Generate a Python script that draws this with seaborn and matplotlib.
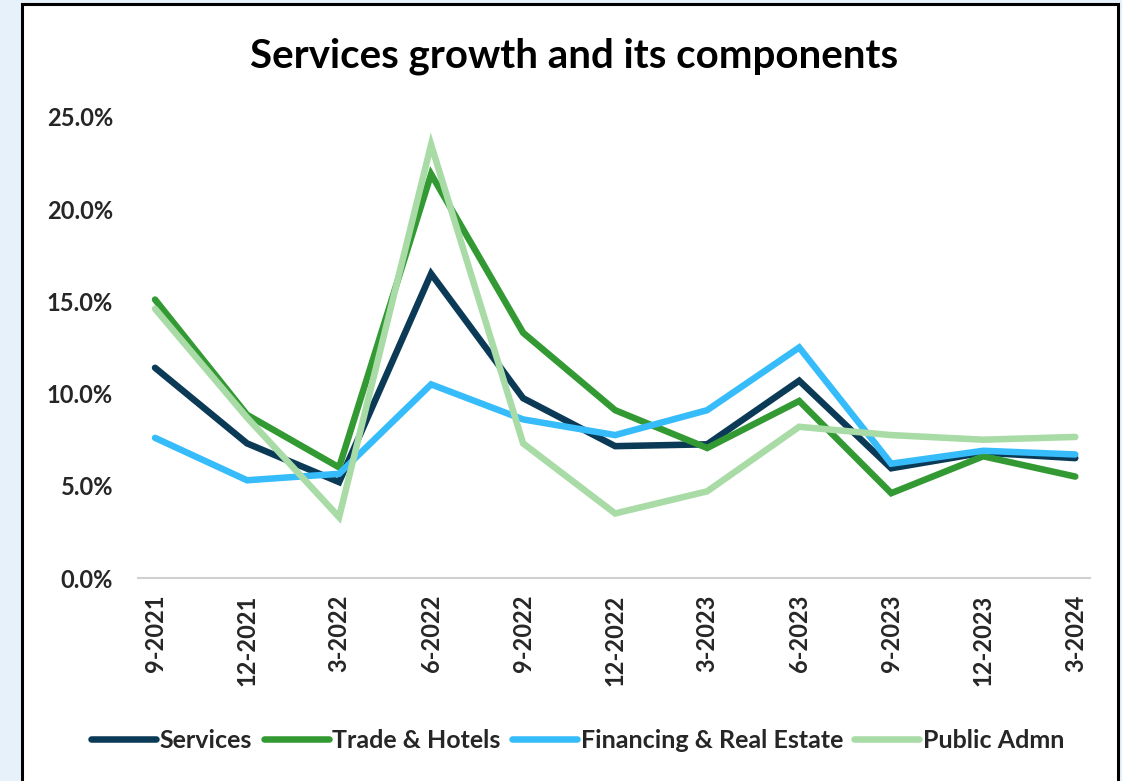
import matplotlib
matplotlib.use("Agg")
import matplotlib.pyplot as plt
import numpy as np
import pandas as pd
import seaborn as sns
from matplotlib.patches import Rectangle
from matplotlib.ticker import FuncFormatter

# Quarterly growth rates (%)
quarters = ["9-2021", "12-2021", "3-2022", "6-2022", "9-2022", "12-2022",
            "3-2023", "6-2023", "9-2023", "12-2023", "3-2024"]
services = [11.4, 7.3, 5.2, 16.5, 9.75, 7.15, 7.25, 10.7, 5.95, 6.8, 6.5]
trade_hotels = [15.1, 8.85, 6.0, 21.9, 13.3, 9.1, 7.05, 9.6, 4.6, 6.6, 5.5]
financing_re = [7.6, 5.3, 5.65, 10.5, 8.6, 7.75, 9.1, 12.5, 6.2, 6.9, 6.7]
public_admn = [14.6, 8.7, 3.3, 23.5, 7.3, 3.5, 4.7, 8.2, 7.75, 7.5, 7.65]

series_names = ["Services", "Trade & Hotels", "Financing & Real Estate", "Public Admn"]
series_colors = ["#0b3a56", "#339a33", "#36bcfb", "#a8dba6"]

frames = []
for name, vals in zip(series_names,
                      [services, trade_hotels, financing_re, public_admn]):
    frames.append(pd.DataFrame({"pos": np.arange(len(quarters)),
                                "growth": vals, "series": name}))
df = pd.concat(frames, ignore_index=True)

sns.set_style("white")
plt.rcParams["font.family"] = ["Lato", "DejaVu Sans"]
plt.rcParams["font.weight"] = "bold"

fig = plt.figure(figsize=(11.22, 7.81), dpi=100)
fig.patch.set_facecolor("#e7f1f9")

# White chart panel with black frame, kept behind the axes
panel = Rectangle((22 / 1122, -0.02), (1118 - 22) / 1122, 1.02 - 4 / 781,
                  transform=fig.transFigure, facecolor="white",
                  edgecolor="black", linewidth=2.2, zorder=-5)
fig.patches.append(panel)

ax = fig.add_axes([138 / 1122, 1 - 578 / 781, (1090 - 138) / 1122,
                   (578 - 117) / 781])
ax.set_facecolor("none")
ax.set_zorder(2)

sns.lineplot(data=df, x="pos", y="growth", hue="series",
             hue_order=series_names, palette=series_colors,
             linewidth=4.7, ax=ax, legend=False, sort=False)
for ln in ax.get_lines():
    ln.set_solid_capstyle("round")
    ln.set_solid_joinstyle("miter")

offset = 0.185
ax.set_xlim(-offset, 10.16)
ax.set_ylim(0, 25)

# Category boundary ticks (unlabelled) and labelled category positions
ax.set_xticks(np.arange(len(quarters)) - offset)
ax.set_xticklabels([])
ax.tick_params(axis="x", which="major", length=7, width=1.5, color="#d0d0d0",
               direction="out")
ax.set_xticks(np.arange(len(quarters)), minor=True)
ax.set_xticklabels(quarters, minor=True, rotation=90, fontsize=17,
                   fontweight="bold")
ax.tick_params(axis="x", which="minor", length=0, pad=12)

ax.set_yticks(np.arange(0, 26, 5))
ax.yaxis.set_major_formatter(FuncFormatter(lambda v, _: f"{v:.1f}%"))
ax.tick_params(axis="y", length=0, pad=18, labelsize=17)
for lbl in ax.get_yticklabels():
    lbl.set_fontweight("bold")

for side in ["top", "right", "left"]:
    ax.spines[side].set_visible(False)
ax.spines["bottom"].set_color("#d0d0d0")
ax.spines["bottom"].set_linewidth(1.5)
ax.set_xlabel("")
ax.set_ylabel("")
ax.grid(False)

fig.text(0.512, 0.928, "Services growth and its components", ha="center",
         va="center", fontsize=29, fontweight="bold", color="black")

handles = [plt.Line2D([0], [0], color=c, linewidth=4.7,
                      solid_capstyle="round") for c in series_colors]
fig.legend(handles, series_names, loc="center", ncol=4,
           bbox_to_anchor=(0.515, 0.052), frameon=False,
           handlelength=2.6, handletextpad=0.15, columnspacing=0.45,
           prop={"weight": "bold", "size": 18})

fig.savefig("out.png", dpi=100, facecolor=fig.get_facecolor())
